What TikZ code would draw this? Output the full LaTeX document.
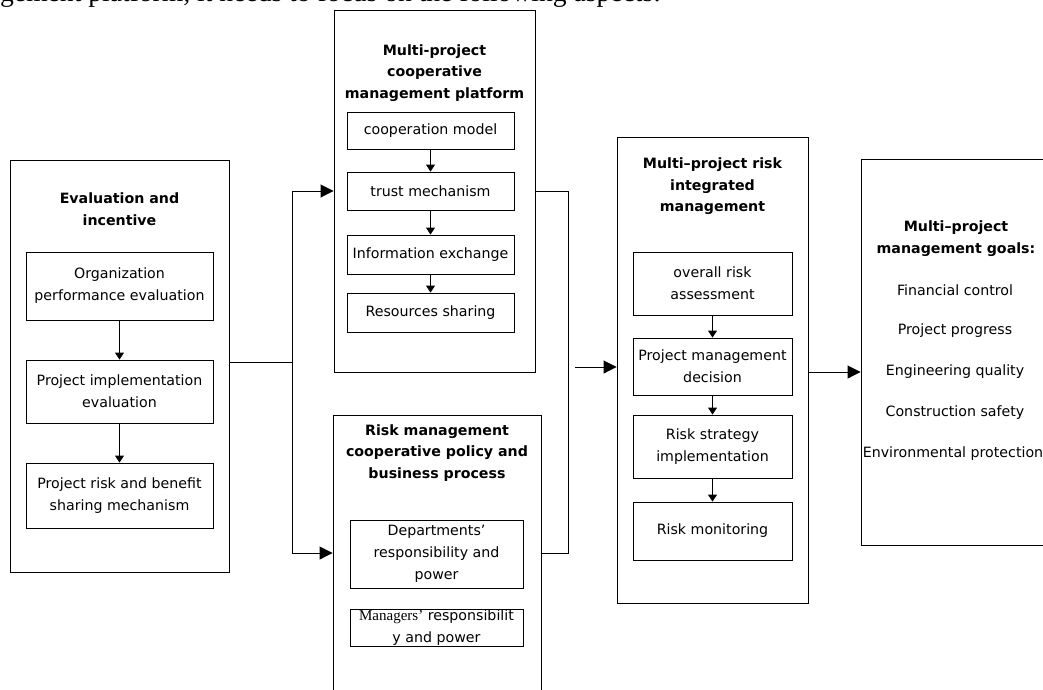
\documentclass[tikz,border=0pt]{standalone}
\usepackage{fontspec}
\setmainfont{DejaVu Sans}
\newfontfamily\timesfam{Liberation Serif}
\usetikzlibrary{arrows.meta}
\newcommand\boxfont{\fontsize{14.2}{22}\selectfont}
\newcommand\titlefont{\fontsize{14.2}{21.5}\selectfont\bfseries}
\newcommand\topfont{\timesfam\fontsize{27.6}{30}\selectfont}
\begin{document}
\begin{tikzpicture}[x=1pt,y=-1pt,
  outer/.style={draw=black, line width=0.9pt, inner sep=0pt},
  inbox/.style={draw=black, line width=0.9pt, inner sep=0pt, align=center, font=\boxfont},
  ttl/.style={inner sep=0pt, align=center, font=\titlefont},
  item/.style={inner sep=0pt, align=center, font=\boxfont},
  line/.style={draw=black, line width=0.9pt},
  small/.style={line, -{Triangle[width=9pt,length=7pt]}},
  big/.style={line, -{Triangle[width=13pt,length=13pt]}}]
\useasboundingbox (0,0) rectangle (1043,689);
\begin{scope}
\clip (0,0) rectangle (1043,689);

% cropped line of running text (only its lower edge is inside the picture)
\node[anchor=base west, inner sep=0pt, font=\topfont] (toptext) at (0,1.5) {gement platform, it needs to focus on the following aspects:};

% Evaluation and incentive
\node[outer, minimum width=219pt, minimum height=412pt] (L) at (119.5,366) {};
\node[ttl] (Lt) at (119.5,209) {Evaluation and\\incentive};
\node[inbox, minimum width=187pt, minimum height=68pt] (L1) at (119.5,286) {Organization\\performance evaluation};
\node[inbox, minimum width=187pt, minimum height=63pt] (L2) at (119.5,391.5) {Project implementation\\evaluation};
\node[inbox, minimum width=187pt, minimum height=65pt] (L3) at (119.5,495.5) {Project risk and benefit\\sharing mechanism};
\draw[small] (L1.south) -- (L2.north);
\draw[small] (L2.south) -- (L3.north);

% Multi-project cooperative management platform
\node[outer, minimum width=201pt, minimum height=362pt] (P) at (434.5,191) {};
\node[ttl] (Pt) at (434.5,73) {Multi-project\\cooperative\\management platform};
\node[inbox, minimum width=167pt, minimum height=37pt] (P1) at (430.5,130.5) {cooperation model};
\node[inbox, minimum width=167pt, minimum height=38pt] (P2) at (430.5,191) {trust mechanism};
\node[inbox, minimum width=167pt, minimum height=39pt] (P3) at (430.5,254.5) {Information exchange};
\node[inbox, minimum width=167pt, minimum height=39pt] (P4) at (430.5,312.5) {Resources sharing};
\draw[small] (P1.south) -- (P2.north);
\draw[small] (P2.south) -- (P3.north);
\draw[small] (P3.south) -- (P4.north);

% Risk management cooperative policy and business process
\node[outer, minimum width=208pt, minimum height=285pt] (R) at (437,557.5) {};
\node[ttl] (Rt) at (437,453) {Risk management\\cooperative policy and\\business process};
\node[inbox, minimum width=173pt, minimum height=68pt] (R1) at (436.5,554) {Departments’\\responsibility and\\power};
\node[inbox, minimum width=173pt, minimum height=37pt] (R2) at (436.5,627.5) {{\timesfam\fontsize{15}{22}\selectfont Managers’}\ responsibilit\\y and power};

% Multi-project risk integrated management
\node[outer, minimum width=191pt, minimum height=466pt] (I) at (712.5,370) {};
\node[ttl] (It) at (712.5,186.5) {Multi–project risk\\integrated\\management};
\node[inbox, minimum width=159pt, minimum height=63pt] (I1) at (712.5,283.5) {overall risk\\assessment};
\node[inbox, minimum width=159pt, minimum height=57pt] (I2) at (712.5,366.5) {Project management\\decision};
\node[inbox, minimum width=159pt, minimum height=63pt] (I3) at (712.5,446.5) {Risk strategy\\implementation};
\node[inbox, minimum width=159pt, minimum height=58pt] (I4) at (712.5,531) {Risk monitoring};
\draw[small] (I1.south) -- (I2.north);
\draw[small] (I2.south) -- (I3.north);
\draw[small] (I3.south) -- (I4.north);

% Multi-project management goals
\node[outer, minimum width=189pt, minimum height=386pt] (G) at (955.5,352) {};
\node[ttl] (Gt) at (956,238.5) {Multi–project\\management goals:};
\node[item] (G1) at (955,290) {Financial control};
\node[item] (G2) at (955,331) {Project progress};
\node[item] (G3) at (955,372) {Engineering quality};
\node[item] (G4) at (955,413) {Construction safety};
\node[item] (G5) at (953,454) {Environmental protection};

% connectors
\coordinate (j) at (292,362);
\coordinate (jt) at (292,191);
\coordinate (jb) at (292,553);
\draw[line] (L.east |- j) -- (j);
\draw[line] (jt) -- (jb);
\draw[big] (jt) -- (P.west);
\draw[big] (jb) -- (R.west |- jb);
\coordinate (k) at (568,553);
\draw[line] (P.east) -| (k) -- (R.east |- k);
\coordinate (s) at (575,367);
\draw[big] (s) -- (I.west |- s);
\coordinate (ga) at (808,372);
\draw[big] (I.east |- ga) -- (G.west |- ga);
\end{scope}
\end{tikzpicture}
\end{document}
